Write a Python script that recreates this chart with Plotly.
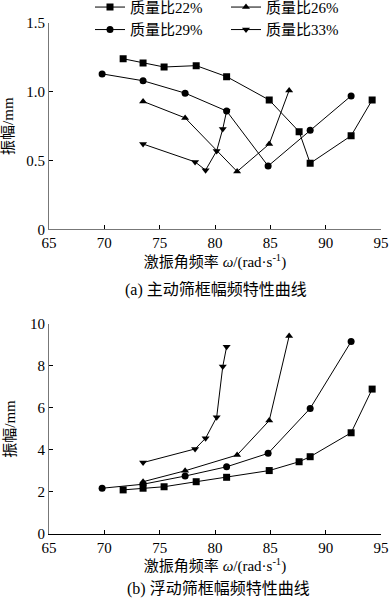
import plotly.graph_objects as go

# ---- data ----
freq_22 = [71.7, 73.5, 75.4, 78.3, 81.05, 84.9, 87.6, 88.6, 92.3, 94.2]
amp_a_22 = [1.24, 1.21, 1.18, 1.19, 1.11, 0.94, 0.71, 0.48, 0.68, 0.94]
amp_b_22 = [2.10, 2.18, 2.25, 2.49, 2.70, 3.02, 3.44, 3.68, 4.82, 6.90]

freq_26 = [73.5, 77.3, 82.0, 84.9, 86.7]
amp_a_26 = [0.93, 0.81, 0.42, 0.62, 1.01]
amp_b_26 = [2.49, 3.01, 3.76, 5.40, 9.43]

freq_29 = [69.8, 73.5, 77.3, 81.05, 84.8, 88.6, 92.3]
amp_a_29 = [1.13, 1.08, 0.99, 0.86, 0.46, 0.72, 0.97]
amp_b_29 = [2.18, 2.37, 2.76, 3.20, 3.84, 5.98, 9.16]

freq_33 = [73.5, 78.2, 79.15, 80.15, 80.7, 81.05]
amp_a_33 = [0.62, 0.49, 0.43, 0.57, 0.73, 0.86]
amp_b_33 = [3.40, 4.05, 4.56, 5.56, 7.97, 8.92]

series_names = ["质量比22%", "质量比26%", "质量比29%", "质量比33%"]
x_ticks = [65, 70, 75, 80, 85, 90, 95]
ya_ticks = [0, 0.5, 1.0, 1.5]
ya_ticktext = ["0", "0.5", "1.0", "1.5"]
yb_ticks = [0, 2, 4, 6, 8, 10]

x_title = "激振角频率 <i>ω</i>/(rad·s<sup>-1</sup>)"
y_title = "振幅/mm"
caption_a = "(a) 主动筛框幅频特性曲线"
caption_b = "(b) 浮动筛框幅频特性曲线"

FONT = "Liberation Serif, 'Noto Sans CJK SC', serif"

series = [
    (series_names[0], freq_22, amp_a_22, amp_b_22, "square", 7),
    (series_names[1], freq_26, amp_a_26, amp_b_26, "triangle-up", 7),
    (series_names[2], freq_29, amp_a_29, amp_b_29, "circle", 7),
    (series_names[3], freq_33, amp_a_33, amp_b_33, "triangle-down", 7),
]

fig = go.Figure()
for name, fx, ya, yb, sym, sz in series:
    fig.add_trace(go.Scatter(
        x=fx, y=ya, name=name, mode="lines+markers",
        line=dict(color="black", width=1),
        marker=dict(symbol=sym, size=sz, color="black"),
        xaxis="x", yaxis="y", showlegend=True))
    fig.add_trace(go.Scatter(
        x=fx, y=yb, name=name, mode="lines+markers",
        line=dict(color="black", width=1),
        marker=dict(symbol=sym, size=sz, color="black"),
        xaxis="x2", yaxis="y2", showlegend=False))

axis_common = dict(
    showgrid=False, zeroline=False, showline=True,
    ticks="inside", ticklen=4, tickwidth=1, tickcolor="black",
    tickfont=dict(family=FONT, size=15, color="black"),
)

fig.update_layout(
    width=390, height=600,
    margin=dict(l=49, r=9, t=23, b=66, autoexpand=False),
    paper_bgcolor="white", plot_bgcolor="white",
    font=dict(family=FONT, size=15, color="black"),
    xaxis=dict(domain=[0, 1], anchor="y", range=[65, 95], tickvals=x_ticks,
               linecolor="#777", linewidth=1, automargin=False,
               title=dict(text=x_title, standoff=6,
                          font=dict(family=FONT, size=15)),
               **axis_common),
    yaxis=dict(domain=[0.5963, 1], anchor="x", range=[0, 1.5],
               tickvals=ya_ticks, ticktext=ya_ticktext,
               linecolor="#777", linewidth=1, automargin=False,
               title=dict(text=y_title, standoff=10,
                          font=dict(family=FONT, size=15)),
               **axis_common),
    xaxis2=dict(domain=[0, 1], anchor="y2", range=[65, 95], tickvals=x_ticks,
                linecolor="black", linewidth=1, automargin=False,
                title=dict(text=x_title, standoff=0,
                           font=dict(family=FONT, size=15)),
                **axis_common),
    yaxis2=dict(domain=[0, 0.411], anchor="x2", range=[0, 10],
                tickvals=yb_ticks,
                linecolor="#777", linewidth=1, automargin=False,
                title=dict(text=y_title, standoff=10,
                           font=dict(family=FONT, size=15)),
                **axis_common),
    legend=dict(orientation="h", xref="paper", yref="paper",
                x=0.1235, y=1.063, xanchor="left", yanchor="top",
                entrywidth=91, entrywidthmode="pixels",
                font=dict(family=FONT, size=15),
                bgcolor="rgba(0,0,0,0)", tracegroupgap=0,
                itemwidth=30),
    annotations=[
        dict(text=caption_a, xref="paper", yref="paper", x=0.504, y=0.479,
             xanchor="center", yanchor="middle", showarrow=False,
             font=dict(family=FONT, size=16)),
        dict(text=caption_b, xref="paper", yref="paper", x=0.51, y=-0.106,
             xanchor="center", yanchor="middle", showarrow=False,
             font=dict(family=FONT, size=16)),
    ],
)

fig.write_html("out.html", config={"displayModeBar": False},
               post_script="document.body.style.margin='0';")
